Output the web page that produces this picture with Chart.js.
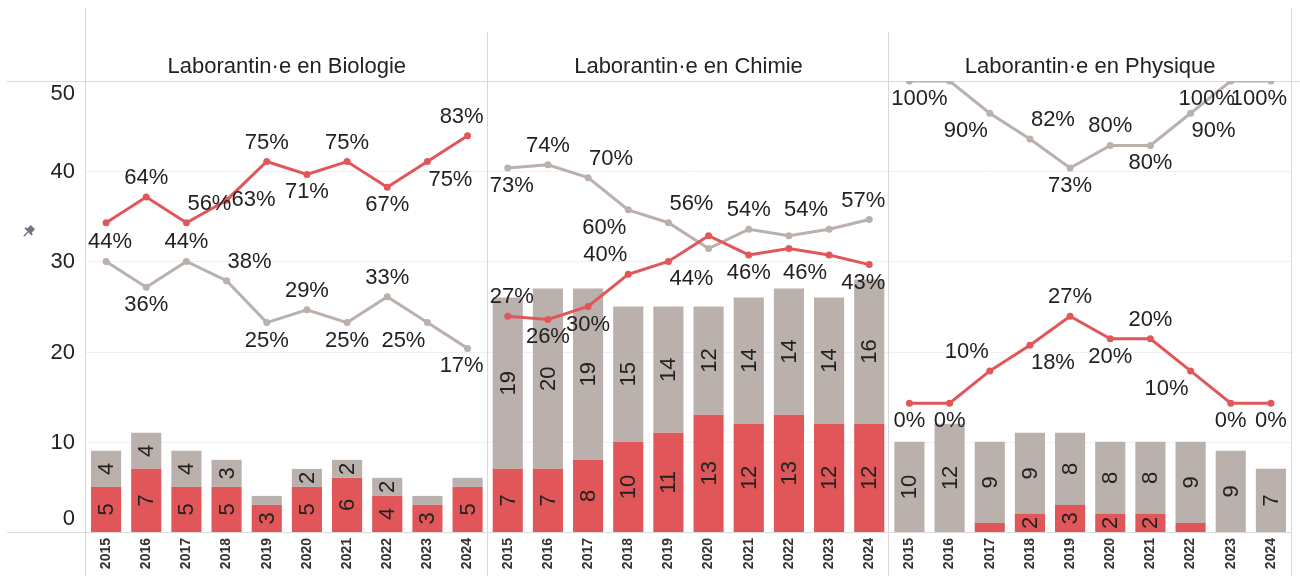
<!DOCTYPE html>
<html lang="fr">
<head>
<meta charset="UTF-8">
<title>Laborantin·e·s par année</title>
<script src="https://cdn.jsdelivr.net/npm/chart.js@4.4.1/dist/chart.umd.min.js"></script>
<style>
  html, body { margin: 0; padding: 0; background: #fff; }
  #wrap { width: 1300px; height: 576px; }
</style>
</head>
<body>
<div id="wrap"><canvas id="chart" width="1300" height="576"></canvas></div>
<script>
// --- data -------------------------------------------------------------
const panels = ['Laborantin·e en Biologie', 'Laborantin·e en Chimie', 'Laborantin·e en Physique'];
const years = ['2015', '2016', '2017', '2018', '2019', '2020', '2021', '2022', '2023', '2024'];
const yTicks = [0, 10, 20, 30, 40, 50];

// headcounts (femmes / hommes)
const bioWomen = [5, 7, 5, 5, 3, 5, 6, 4, 3, 5];
const bioMen   = [4, 4, 4, 3, 1, 2, 2, 2, 1, 1];
const chiWomen = [7, 7, 8, 10, 11, 13, 12, 13, 12, 12];
const chiMen   = [19, 20, 19, 15, 14, 12, 14, 14, 14, 16];
const phyWomen = [0, 0, 1, 2, 3, 2, 2, 1, 0, 0];
const phyMen   = [10, 12, 9, 9, 8, 8, 8, 9, 9, 7];

// shares in %
const bioWomenPct = [56, 64, 56, 63, 75, 71, 75, 67, 75, 83];
const bioMenPct   = [44, 36, 44, 38, 25, 29, 25, 33, 25, 17];
const chiWomenPct = [27, 26, 30, 40, 44, 52, 46, 48, 46, 43];
const chiMenPct   = [73, 74, 70, 60, 56, 48, 54, 52, 54, 57];
const phyWomenPct = [0, 0, 10, 18, 27, 20, 20, 10, 0, 0];
const phyMenPct   = [100, 100, 90, 82, 73, 80, 80, 90, 100, 100];

// where each % label sits relative to its point ('' = not shown)
const womenLabelPos = [
  '', 'T', 'TR', 'R', 'T', 'B', 'T', 'B', 'BR', 'T',
  'T', 'B', 'B', 'TL', 'BR', '', 'B', '', 'BL', 'B',
  'B', 'B', 'TL', 'BR', 'T', 'B', 'T', 'BL', 'B', 'B'
];
const menLabelPos = [
  'T', 'B', 'T', 'TR', 'B', 'T', 'B', 'T', 'BL', 'B',
  'B', 'T', 'TR', 'BL', 'TR', '', 'T', '', 'TL', 'T',
  'B', '', 'BL', 'TR', 'B', 'T', 'B', 'BR', 'BL', 'B'
];

// --- setup ------------------------------------------------------------
const FONT = '"Liberation Sans", Arial, sans-serif';
const RED = '#e15759';
const GREY = '#bab0ac';
const INK = '#222222';
const offsets = {
  T: [0, -19], B: [0, 18], TR: [23, -19], TL: [-23, -19],
  BR: [23, 18], BL: [-24, 18], R: [27, 0]
};

const labels = [].concat(years, years, years);
const women = [].concat(bioWomen, chiWomen, phyWomen);
const men = [].concat(bioMen, chiMen, phyMen);
const womenPct = [].concat(bioWomenPct, chiWomenPct, phyWomenPct);
const menPct = [].concat(bioMenPct, chiMenPct, phyMenPct);

function hline(ctx, x1, x2, y) {
  ctx.beginPath(); ctx.moveTo(x1, y); ctx.lineTo(x2, y); ctx.stroke();
}
function vline(ctx, x, y1, y2) {
  ctx.beginPath(); ctx.moveTo(x, y1); ctx.lineTo(x, y2); ctx.stroke();
}

// grid, pane frame, headers, y-axis numbers
const framePlugin = {
  id: 'frame',
  beforeDatasetsDraw(chart) {
    const { ctx, chartArea: a, scales: { y } } = chart;
    const paneW = (a.right - a.left) / 3;
    ctx.save();
    ctx.lineWidth = 1;

    ctx.strokeStyle = '#f0f0f0';
    yTicks.forEach(v => {
      if (v > 0 && v < 50) hline(ctx, a.left, a.right, Math.round(y.getPixelForValue(v)) + 0.5);
    });

    ctx.strokeStyle = '#d9d9d9';
    hline(ctx, 7, chart.width, Math.round(a.top) + 0.5);
    hline(ctx, 7, Math.round(a.right), Math.round(a.bottom) + 0.5);
    vline(ctx, Math.round(a.left) - 0.5, 8, chart.height);
    vline(ctx, Math.round(a.right) + 0.5, 8, chart.height);
    for (let k = 1; k < 3; k++) {
      vline(ctx, Math.round(a.left + k * paneW) - 0.5, 32, chart.height);
    }

    ctx.fillStyle = INK;
    ctx.font = '22px ' + FONT;
    ctx.textAlign = 'center';
    ctx.textBaseline = 'middle';
    panels.forEach((t, k) => ctx.fillText(t, a.left + (k + 0.5) * paneW, 67));

    ctx.textAlign = 'right';
    yTicks.forEach(v => {
      let py = y.getPixelForValue(v);
      py = Math.max(a.top + 12, Math.min(a.bottom - 14, py));
      ctx.fillText(String(v), 75, py + 1);
    });

    // little pin marker next to the axis
    ctx.translate(28, 232);
    ctx.rotate(Math.PI / 4);
    ctx.fillStyle = '#6f7683';
    ctx.fillRect(-3, -7, 6, 6);
    ctx.fillRect(-5, -2, 10, 2);
    ctx.fillRect(-0.7, 0, 1.4, 6);
    ctx.restore();
  }
};

// counts inside bars and % next to the line points
const labelPlugin = {
  id: 'valueLabels',
  afterDatasetsDraw(chart) {
    const { ctx, chartArea: a } = chart;
    const paneW = (a.right - a.left) / 3;
    ctx.save();
    ctx.fillStyle = INK;
    ctx.font = '22px ' + FONT;
    ctx.textBaseline = 'middle';

    chart.data.datasets.forEach((ds, di) => {
      const meta = chart.getDatasetMeta(di);
      if (ds.type === 'bar') {
        ctx.textAlign = 'center';
        meta.data.forEach((el, i) => {
          const v = ds.data[i];
          if (v < 2) return;
          ctx.save();
          ctx.translate(el.x, (el.y + el.base) / 2);
          ctx.rotate(-Math.PI / 2);
          ctx.fillText(String(v), 0, 1);
          ctx.restore();
        });
      } else {
        ctx.textAlign = 'center';
        meta.data.forEach((el, i) => {
          const code = ds.labelPos[i];
          if (!code) return;
          const txt = ds.data[i] + '%';
          const w = ctx.measureText(txt).width;
          const [dx, dy] = offsets[code];
          const p = Math.floor(i / years.length);
          const left = a.left + p * paneW + 2;
          const right = a.left + (p + 1) * paneW - 4;
          let x = el.x + dx;
          x = Math.max(left + w / 2, Math.min(right - w / 2, x));
          ctx.fillText(txt, x, el.y + dy);
        });
      }
    });
    ctx.restore();
  }
};

// no line between the last year of a pane and the first year of the next
const breakAtPane = color => ctx =>
  (ctx.p0DataIndex % years.length === years.length - 1) ? 'rgba(0,0,0,0)' : color;

new Chart(document.getElementById('chart'), {
  data: {
    labels: labels,
    datasets: [
      {
        type: 'line', label: 'Femmes %', data: womenPct, yAxisID: 'y2', order: 0,
        borderColor: RED, backgroundColor: RED, borderWidth: 3,
        pointRadius: 3.5, pointBorderWidth: 0, pointBackgroundColor: RED,
        segment: { borderColor: breakAtPane(RED) }, labelPos: womenLabelPos
      },
      {
        type: 'line', label: 'Hommes %', data: menPct, yAxisID: 'y2', order: 0,
        borderColor: GREY, backgroundColor: GREY, borderWidth: 3,
        pointRadius: 3.5, pointBorderWidth: 0, pointBackgroundColor: GREY,
        segment: { borderColor: breakAtPane(GREY) }, labelPos: menLabelPos
      },
      {
        type: 'bar', label: 'Femmes', data: women, yAxisID: 'y', order: 1,
        backgroundColor: RED, stack: 'n', barPercentage: 0.75, categoryPercentage: 1
      },
      {
        type: 'bar', label: 'Hommes', data: men, yAxisID: 'y', order: 1,
        backgroundColor: GREY, stack: 'n', barPercentage: 0.75, categoryPercentage: 1
      }
    ]
  },
  options: {
    responsive: false,
    animation: false,
    devicePixelRatio: 1,
    layout: { padding: { left: 86, right: 9, top: 81, bottom: 0 } },
    plugins: { legend: { display: false }, tooltip: { enabled: false } },
    scales: {
      x: {
        stacked: true,
        grid: { display: false, drawTicks: false },
        border: { display: false },
        ticks: {
          autoSkip: false, minRotation: 90, maxRotation: 90, padding: 6,
          color: '#333', font: { family: FONT, size: 14, weight: 'bold' }
        },
        afterFit: s => { s.height = 44; }
      },
      y: { display: false, stacked: true, min: 0, max: 50 },
      y2: { display: false, min: -40, max: 100 }
    }
  },
  plugins: [framePlugin, labelPlugin]
});
</script>
</body>
</html>
